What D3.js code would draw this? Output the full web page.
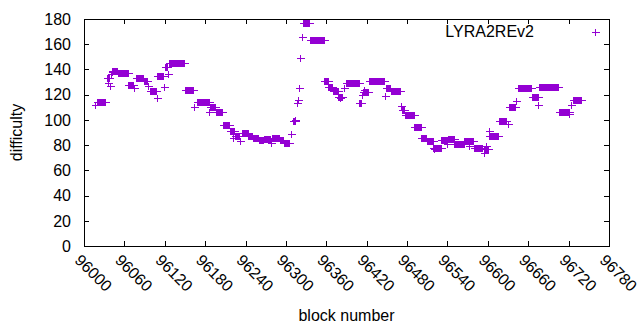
<!DOCTYPE html>
<html>
<head>
<meta charset="utf-8">
<script src="https://cdn.jsdelivr.net/npm/d3@7"></script>
<style>
  body { margin: 0; background: #fff; }
  text { font-family: "Liberation Sans", Arial, sans-serif; fill: #000; }
</style>
</head>
<body>
<div id="chart"></div>
<script>
// difficulty held over runs of consecutive blocks (start block, end block, value)
const runStart = [96016, 96019, 96034, 96036, 96039, 96040, 96041, 96042, 96051, 96066, 96074, 96077, 96089, 96095,
  96098, 96108, 96109, 96119, 96120, 96125, 96127, 96150, 96163, 96168, 96186, 96187, 96196, 96206, 96217, 96222,
  96224, 96232, 96234, 96244, 96251, 96260, 96267, 96278, 96280, 96291, 96297, 96307, 96310, 96313, 96316, 96318,
  96320, 96321, 96324, 96326, 96336, 96357, 96363, 96370, 96378, 96381, 96386, 96389, 96409, 96413, 96415, 96416,
  96423, 96447, 96449, 96456, 96471, 96472, 96477, 96491, 96501, 96509, 96519, 96520, 96531, 96540, 96541, 96550,
  96565, 96572, 96579, 96594, 96595, 96597, 96601, 96602, 96616, 96630, 96631, 96642, 96645, 96665, 96675, 96676,
  96705, 96721, 96723, 96726];
const runEnd = [96016, 96031, 96037, 96036, 96039, 96040, 96041, 96049, 96065, 96073, 96074, 96088, 96094, 96095,
  96107, 96108, 96118, 96119, 96124, 96125, 96149, 96162, 96163, 96185, 96186, 96195, 96205, 96216, 96223, 96222,
  96231, 96232, 96243, 96250, 96259, 96266, 96277, 96278, 96290, 96296, 96305, 96307, 96314, 96313, 96316, 96318,
  96320, 96321, 96324, 96335, 96356, 96362, 96369, 96377, 96384, 96381, 96386, 96408, 96412, 96413, 96422, 96416,
  96446, 96447, 96455, 96470, 96471, 96476, 96490, 96500, 96508, 96518, 96530, 96520, 96539, 96540, 96549, 96564,
  96578, 96572, 96592, 96594, 96600, 96597, 96615, 96602, 96627, 96630, 96641, 96642, 96664, 96674, 96675, 96704,
  96720, 96721, 96723, 96738];
const runValue = [112, 114, 133, 129, 127, 136, 138, 139, 137, 128, 125, 133, 131, 127,
  123, 117, 135, 126, 142, 136, 145, 124, 110, 114, 106, 110, 106, 96, 91, 86,
  87, 83, 90, 87, 86, 84, 85, 82, 86, 84, 82, 89, 99, 100, 113, 116,
  125, 149, 166, 177, 163, 131, 126, 123, 118, 117, 125, 129, 113, 120, 122, 124,
  131, 119, 125, 123, 111, 108, 104, 94, 86, 83, 78, 77, 84, 81, 85, 81,
  83, 79, 78, 74, 77, 79, 87, 91, 99, 97, 110, 115, 125, 118, 112, 126,
  106, 105, 112, 116];

const xTicks = [96000, 96060, 96120, 96180, 96240, 96300, 96360, 96420, 96480, 96540, 96600, 96660, 96720, 96780];
const yTicks = [0, 20, 40, 60, 80, 100, 120, 140, 160, 180];
const seriesName = "LYRA2REv2";

const width = 640, height = 330;
const plotLeft = 84, plotRight = 609, plotTop = 19, plotBottom = 246;
const color = "#9400d3";

const points = [];
for (let i = 0; i < runStart.length; i++) {
    for (let b = runStart[i]; b <= runEnd[i]; b++) {
        points.push({ block: b, value: runValue[i] });
    }
}

const svg = d3.select("#chart")
    .append("svg")
    .attr("width", width)
    .attr("height", height);

const x = d3.scaleLinear().domain([96000, 96780]).range([plotLeft, plotRight]);
const y = d3.scaleLinear().domain([0, 180]).range([plotBottom, plotTop]);

const plus = "M-4,0H4M0,-3.5V3.5";

// ticks on all four sides, pointing in
const tickG = svg.append("g")
    .attr("stroke", "#000")
    .attr("shape-rendering", "crispEdges");
xTicks.forEach(function(t) {
    const px = Math.round(x(t)) + 0.5;
    tickG.append("line").attr("x1", px).attr("x2", px).attr("y1", plotBottom).attr("y2", plotBottom - 5);
    tickG.append("line").attr("x1", px).attr("x2", px).attr("y1", plotTop).attr("y2", plotTop + 5);
});
yTicks.forEach(function(t) {
    const py = Math.round(y(t)) + 0.5;
    tickG.append("line").attr("x1", plotLeft).attr("x2", plotLeft + 5).attr("y1", py).attr("y2", py);
    tickG.append("line").attr("x1", plotRight).attr("x2", plotRight - 5).attr("y1", py).attr("y2", py);
});

// y tick labels
svg.append("g")
    .selectAll("text")
    .data(yTicks)
    .join("text")
    .attr("x", plotLeft - 13)
    .attr("y", d => y(d))
    .attr("dy", "0.36em")
    .attr("text-anchor", "end")
    .style("font-size", "16px")
    .text(d => d);

// x tick labels, rotated
svg.append("g")
    .selectAll("text")
    .data(xTicks)
    .join("text")
    .attr("transform", d => `translate(${x(d) - 2}, 253) rotate(45)`)
    .attr("dy", "0.72em")
    .attr("text-anchor", "start")
    .style("font-size", "16px")
    .text(d => d);

// frame
svg.append("rect")
    .attr("x", plotLeft + 0.5)
    .attr("y", plotTop + 0.5)
    .attr("width", plotRight - plotLeft)
    .attr("height", plotBottom - plotTop)
    .attr("fill", "none")
    .attr("stroke", "#000")
    .attr("shape-rendering", "crispEdges");

// data points as gnuplot-style pluses
svg.append("g")
    .selectAll("path")
    .data(points)
    .join("path")
    .attr("d", plus)
    .attr("transform", d => `translate(${Math.round(x(d.block)) + 0.5}, ${Math.round(y(d.value)) + 0.5})`)
    .attr("fill", "none")
    .attr("stroke", color)
    .attr("stroke-width", 1)
    .attr("shape-rendering", "crispEdges");

// legend
svg.append("text")
    .attr("x", 534)
    .attr("y", 37)
    .attr("text-anchor", "end")
    .style("font-size", "16px")
    .text(seriesName);
svg.append("path")
    .attr("d", plus)
    .attr("transform", "translate(595.5, 32.5)")
    .attr("fill", "none")
    .attr("stroke", color)
    .attr("shape-rendering", "crispEdges");

// axis titles
svg.append("text")
    .attr("transform", `translate(22, ${(plotTop + plotBottom) / 2}) rotate(-90)`)
    .attr("text-anchor", "middle")
    .style("font-size", "16px")
    .text("difficulty");
svg.append("text")
    .attr("x", (plotLeft + plotRight) / 2)
    .attr("y", 321)
    .attr("text-anchor", "middle")
    .style("font-size", "16px")
    .text("block number");
</script>
</body>
</html>
